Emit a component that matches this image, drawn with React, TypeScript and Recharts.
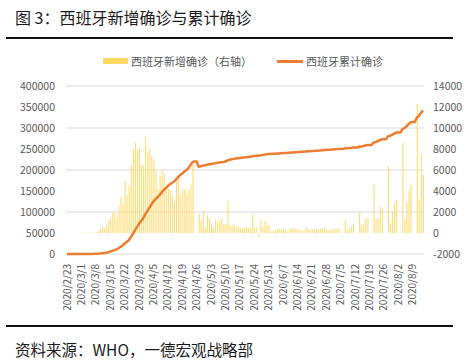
import {
    ComposedChart,
    Bar,
    Line,
    XAxis,
    YAxis,
    CartesianGrid,
} from "recharts";

// 西班牙每日新增确诊（右轴），2020/2/23 起逐日
const newCases: number[] = [
    0, 0, 0, 4, 7, 2, 17, 13, 39, 36, 45, 57, 37,
    80, 150, 200, 400, 600, 480, 800, 1200, 1480, 1920, 2000,
    1400, 2520, 3400, 2800, 4920, 3600, 4480, 6480, 8000, 8600,
    7880, 8120, 6520, 6400, 9160, 7720, 8000, 7400, 7000, 6000,
    4200, 5400, 6120, 5680, 4480, 4280, 4080, 3480, 3000, 5000,
    5200, 3600, 4200, 4200, 3800, 4120, 4600, 6600, 0, 0,
    1800, 1200, 2120, 520, 1720, 1400, 880, 480, 1280, 1000,
    1200, 1400, 800, 880, 3040, 680, 730, 820, 570, 660,
    440, 500, 500, 540, 500, 500, 1840, 500, 500, -350,
    1270, 570, 1170, 730, 730, 160, 190, 350, 410, 410,
    350, 350, 250, 250, 350, 410, 475, 440, 380, 320,
    250, 250, 570, 350, 320, 350, 350, 350, 410, 410,
    500, 570, 350, 250, 350, 350, 440, 440, 440, 0,
    0, 1240, 350, 410, 570, 860, 0, 0, 2000, 730,
    820, 1360, 1460, 0, 0, 4600, 1360, 1360, 2630, 2310,
    0, 0, 6370, 980, 2000, 2880, 3140, 0, 0, 8590,
    1300, 2950, 4060, 4600, 0, 0, 12300, 3270, 7540, 5550,
];

// 西班牙累计确诊（左轴）
const totalCases: number[] = [
    2, 2, 2, 6, 13, 15, 32, 45, 84, 120, 165, 222, 259,
    400, 500, 673, 1073, 1695, 2277, 3146, 4231, 5753, 7753, 9191,
    11178, 13716, 17147, 19980, 24926, 28572, 33089, 39673, 47610, 56188,
    64059, 72248, 78797, 85195, 94417, 102136, 110238, 117710, 124736, 130759,
    135032, 140510, 146690, 152446, 157022, 161852, 166019, 169496, 172541, 177633,
    182816, 188068, 191726, 195944, 200210, 204178, 212000, 219000, 220500, 220500,
    207600, 209000, 210500, 211500, 212500, 213500, 214500, 215200, 216000, 217000,
    217800, 218500, 219200, 220000, 223000, 224500, 225500, 226500, 227200, 228000,
    228700, 229300, 229800, 230300, 230800, 231300, 233000, 233500, 234000, 233700,
    235000, 235500, 236600, 237300, 238000, 238200, 238400, 238700, 239100, 239500,
    239800, 240200, 240400, 240600, 241000, 241400, 241800, 242300, 242700, 243000,
    243300, 243500, 244100, 244400, 244700, 245100, 245400, 245700, 246100, 246500,
    247000, 247600, 248000, 248200, 248500, 248900, 249300, 249700, 250100, 250100,
    250100, 251400, 251700, 252100, 252700, 253500, 253500, 253500, 255500, 256200,
    257000, 258400, 259800, 259800, 259800, 265500, 267000, 268500, 271000, 273000,
    273000, 273000, 280000, 281500, 283500, 286500, 289000, 289000, 289000, 297000,
    300000, 304000, 309000, 314000, 314200, 314300, 324500, 329000, 336000, 342000,
];

const leftTicks = [0, 50000, 100000, 150000, 200000, 250000, 300000, 350000, 400000];
const rightTicks = [-2000, 0, 2000, 4000, 6000, 8000, 10000, 12000, 14000];

// 日期类别：2020/2/23 起逐日
const dates: string[] = newCases.map((_, i) => {
    const d = new Date(Date.UTC(2020, 1, 23 + i));
    return `${d.getUTCFullYear()}/${d.getUTCMonth() + 1}/${d.getUTCDate()}`;
});

const data = dates.map((date, i) => ({
    date,
    daily: newCases[i],
    total: totalCases[i],
}));

const FONT = '"Noto Sans CJK SC", "Noto Sans", sans-serif';
const GRAY = "#595959";

function DateTick(props: any) {
    const { x, y, payload } = props;
    return (
        <g transform={`translate(${x},${y + 8})`}>
            <text
                transform="rotate(-90)"
                textAnchor="end"
                dy="0.35em"
                fontSize={10}
                fontFamily={FONT}
                fill={GRAY}
            >
                {payload.value}
            </text>
        </g>
    );
}

export default function App() {
    return (
        <div
            style={{
                position: "relative",
                width: 468,
                height: 363,
                background: "#fff",
                fontFamily: FONT,
                overflow: "hidden",
            }}
        >
            <style>{"body{margin:0}"}</style>

            <div style={{ position: "absolute", left: 15, top: 8, fontSize: 16, lineHeight: "18px", color: "#1a1a1a" }}>
                图 3：西班牙新增确诊与累计确诊
            </div>
            <div style={{ position: "absolute", left: 6, top: 37, width: 447, height: 2, background: "#111" }} />

            <ComposedChart
                width={468}
                height={363}
                data={data}
                margin={{ top: 86, right: 0, bottom: 0, left: 0 }}
                style={{ position: "absolute", left: 0, top: 0 }}
            >
                <CartesianGrid yAxisId="left" vertical={false} stroke="#d9d9d9" />
                <XAxis
                    dataKey="date"
                    interval={6}
                    height={109}
                    axisLine={false}
                    tickLine={false}
                    tickSize={0}
                    tick={<DateTick />}
                />
                <YAxis
                    yAxisId="left"
                    orientation="left"
                    width={66}
                    domain={[0, 400000]}
                    ticks={leftTicks}
                    axisLine={false}
                    tickLine={false}
                    tickSize={0}
                    tickMargin={11}
                    tick={{ fontSize: 10.5, fill: GRAY, fontFamily: FONT }}
                />
                <YAxis
                    yAxisId="right"
                    orientation="right"
                    width={44}
                    domain={[-2000, 14000]}
                    ticks={rightTicks}
                    axisLine={false}
                    tickLine={false}
                    tickSize={0}
                    tickMargin={9}
                    tick={{ fontSize: 10.5, fill: GRAY, fontFamily: FONT }}
                />
                <Bar
                    yAxisId="right"
                    dataKey="daily"
                    fill="#FFD966"
                    barSize={1}
                    isAnimationActive={false}
                />
                <Line
                    yAxisId="left"
                    type="linear"
                    dataKey="total"
                    stroke="#ED7D31"
                    strokeWidth={2.5}
                    dot={false}
                    isAnimationActive={false}
                />
            </ComposedChart>

            {/* 图例 */}
            <div style={{ position: "absolute", left: 103, top: 58, width: 25, height: 6, background: "#FFD966" }} />
            <div style={{ position: "absolute", left: 131, top: 54, fontSize: 11, lineHeight: "14px", color: GRAY }}>
                西班牙新增确诊（右轴）
            </div>
            <div style={{ position: "absolute", left: 277, top: 60, width: 26, height: 2.5, background: "#ED7D31" }} />
            <div style={{ position: "absolute", left: 306, top: 54, fontSize: 11, lineHeight: "14px", color: GRAY }}>
                西班牙累计确诊
            </div>

            <div style={{ position: "absolute", left: 6, top: 325, width: 447, height: 2, background: "#111" }} />
            <div style={{ position: "absolute", left: 15, top: 340, fontSize: 15.5, lineHeight: "18px", color: "#1a1a1a" }}>
                资料来源：WHO，一德宏观战略部
            </div>
        </div>
    );
}
